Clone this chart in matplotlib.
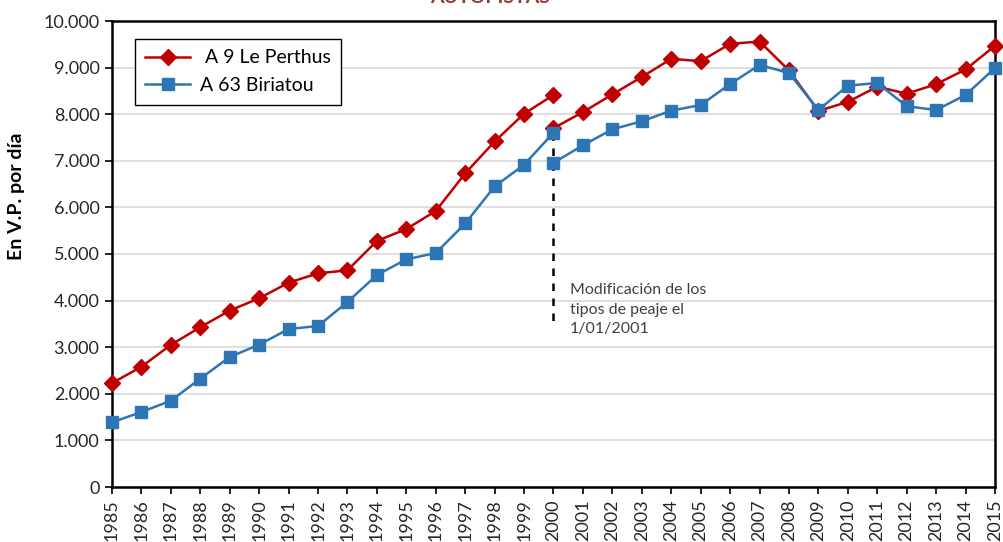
import matplotlib
matplotlib.use("Agg")
import matplotlib.pyplot as plt
from matplotlib.ticker import FuncFormatter, MultipleLocator

plt.rcParams['font.family'] = ['Lato', 'DejaVu Sans']

# Daily light vehicles (V.P.) per year; 2000 appears in both periods
years_before = list(range(1985, 2001))
a9_before = [2230, 2580, 3050, 3430, 3785, 4050, 4385, 4585, 4650, 5280,
             5536, 5923, 6730, 7415, 8010, 8412]
a63_before = [1388, 1609, 1852, 2325, 2790, 3054, 3390, 3455, 3970, 4549,
              4886, 5021, 5655, 6450, 6915, 7604]

years_after = list(range(2000, 2016))
a9_after = [7700, 8045, 8425, 8798, 9188, 9138, 9510, 9560, 8940, 8069,
            8265, 8590, 8440, 8645, 8960, 9468]
a63_after = [6957, 7332, 7676, 7848, 8076, 8197, 8648, 9056, 8884, 8090,
             8612, 8670, 8170, 8090, 8412, 8991]

tick_years = list(range(1985, 2016))
note_year = 2000
note_top, note_bottom = 7604, 3500
note_text = "Modificación de los\ntipos de peaje el\n1/01/2001"

red = "#C00000"
blue = "#2E75B6"

fig = plt.figure(figsize=(10.04, 5.42), dpi=100)
ax = fig.add_axes([112 / 1004, 55 / 542, 883 / 1004, 466 / 542])

ax.grid(axis='y', color='#d9d9d9', linewidth=1.2, zorder=0)
ax.set_axisbelow(True)

line_kw = dict(linewidth=1.8, clip_on=False, zorder=3)
ax.plot(years_before, a9_before, color=red, marker='D', markersize=8,
        label=' A 9 Le Perthus', **line_kw)
ax.plot(years_after, a9_after, color=red, marker='D', markersize=8, **line_kw)
ax.plot(years_before, a63_before, color=blue, marker='s', markersize=8,
        label='A 63 Biriatou', **line_kw)
ax.plot(years_after, a63_after, color=blue, marker='s', markersize=8, **line_kw)

ax.plot([note_year, note_year], [note_top, note_bottom], color='black',
        linestyle=(0, (3, 3)), linewidth=1.8, zorder=2)
ax.text(2000.55, 4370, note_text, fontsize=11.5, color='#404040',
        va='top', ha='left', linespacing=1.5)

ax.set_xlim(1985, 2015)
ax.set_ylim(0, 10000)
ax.set_xticks(tick_years)
ax.set_xticklabels([str(y) for y in tick_years], rotation=90)
ax.yaxis.set_major_locator(MultipleLocator(1000))
ax.yaxis.set_major_formatter(FuncFormatter(lambda v, p: f"{int(v):,}".replace(",", ".")))
ax.tick_params(axis='both', direction='out', length=5, width=1.2,
               labelsize=13, colors='black', labelcolor='#262626', pad=4)

for s in ax.spines.values():
    s.set_linewidth(1.8)
    s.set_color('black')

ax.set_ylabel("En V.P. por día", fontsize=14, fontweight='bold')
ax.yaxis.set_label_coords(-0.098, 0.624)

leg = ax.legend(loc='upper left', bbox_to_anchor=(13 / 883, 1 - 8 / 466),
                fontsize=14, frameon=True, fancybox=False, edgecolor='black',
                framealpha=1, borderpad=0.55, handlelength=2.3,
                handletextpad=0.5, labelspacing=0.55)
leg.get_frame().set_linewidth(1.0)

fig.text(490 / 1004, 1 - 3 / 542, "AUTOPISTAS", ha='center', va='baseline',
         fontsize=14, fontweight='bold', color='#953735')

fig.savefig("out.png", dpi=100)
